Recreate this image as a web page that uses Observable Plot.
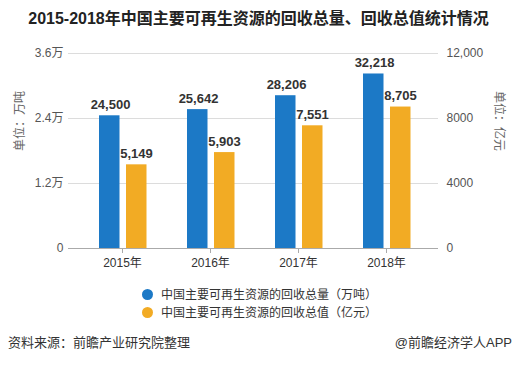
<!DOCTYPE html>
<html>
<head>
<meta charset="utf-8">
<script src="https://cdn.jsdelivr.net/npm/d3@7"></script>
<script src="https://cdn.jsdelivr.net/npm/@observablehq/plot@0.6"></script>
<style>
  html, body { margin: 0; padding: 0; background: #fff; }
  #wrap { position: relative; width: 517px; height: 365px; overflow: hidden;
    font-family: "Liberation Sans", "Noto Sans CJK SC", sans-serif; color: #333; }
  #title { position: absolute; left: 0; top: 8px; width: 517px; text-align: center;
    font-size: 16px; font-weight: bold; color: #222; line-height: 22px; white-space: nowrap; }
  #chart { position: absolute; left: 0; top: 0; }
  .leg { position: absolute; left: 142px; font-size: 12px; line-height: 16px; color: #333; white-space: nowrap; }
  .leg span.dot { display: inline-block; width: 11px; height: 11px; border-radius: 50%; vertical-align: -1px; margin-right: 8px; }
  .foot { position: absolute; top: 334px; font-size: 13px; line-height: 18px; color: #333; white-space: nowrap; }
</style>
</head>
<body>
<div id="wrap">
  <div id="chart"></div>
  <div id="title"></div>
  <div id="legend"></div>
  <div class="foot" id="src" style="left:8px"></div>
  <div class="foot" id="brand" style="right:5px"></div>
</div>
<script>
// ---- data ----
const years = ["2015年", "2016年", "2017年", "2018年"];
const volume = [24500, 25642, 28206, 32218];        // 回收总量（万吨）
const valueAmt = [5149, 5903, 7551, 8705];           // 回收总值（亿元）
const leftTicks = [0, 12000, 24000, 36000];
const leftTickLabels = ["0", "1.2万", "2.4万", "3.6万"];
const rightTicks = [0, 4000, 8000, 12000];
const rightTickLabels = ["0", "4000", "8000", "12,000"];
const seriesNames = ["中国主要可再生资源的回收总量（万吨）", "中国主要可再生资源的回收总值（亿元）"];
const titleText = "2015-2018年中国主要可再生资源的回收总量、回收总值统计情况";
const leftUnit = "单位：万吨";
const rightUnit = "单位：亿元";
const sourceText = "资料来源：前瞻产业研究院整理";
const brandText = "@前瞻经济学人APP";

const colors = ["#1c79c6", "#f2ab24"];
const ratio = leftTicks[leftTicks.length - 1] / rightTicks[rightTicks.length - 1];
const fmt = d3.format(",");

const rows = years.map((y, i) => ({year: y, volume: volume[i], value: valueAmt[i]}));

const chart = Plot.plot({
  width: 517,
  height: 365,
  marginTop: 53,
  marginBottom: 117,
  marginLeft: 68,
  marginRight: 79,
  style: {fontFamily: "'Liberation Sans', 'Noto Sans CJK SC', sans-serif", fontSize: "12px", color: "#333", background: "transparent"},
  x: {type: "band", domain: years, range: [77, 431], padding: 0, label: null},
  y: {domain: [0, leftTicks[leftTicks.length - 1]], label: null},
  marks: [
    Plot.ruleY(leftTicks.slice(1), {stroke: "#dcdcdc"}),
    Plot.barY(rows, {x: "year", y: "volume", fill: colors[0], insetLeft: 21, insetRight: 46.5}),
    Plot.barY(rows, {x: "year", y: d => d.value * ratio, fill: colors[1], insetLeft: 48, insetRight: 19.5}),
    Plot.ruleY([0], {stroke: "#aaa"}),
    Plot.text(rows, {x: "year", y: "volume", text: d => fmt(d.volume), dx: -12, dy: -11, fontSize: 13, fontWeight: "bold", fill: "#333"}),
    Plot.text(rows, {x: "year", y: d => d.value * ratio, text: d => fmt(d.value), dx: 14, dy: -11, fontSize: 13, fontWeight: "bold", fill: "#333"}),
    Plot.axisY(leftTicks, {anchor: "left", tickSize: 0, tickPadding: 5, fill: "#555", fontSize: 12,
      tickFormat: d => leftTickLabels[leftTicks.indexOf(d)], label: null}),
    Plot.axisY(rightTicks, {anchor: "right", y: d => d * ratio, tickSize: 0, tickPadding: 8, fill: "#555", fontSize: 12,
      tickFormat: d => rightTickLabels[rightTicks.indexOf(d)], label: null}),
    Plot.axisX({tickSize: 5, tickPadding: 5, stroke: "#aaa", fill: "#333", fontSize: 12, label: null}),
    Plot.text([leftUnit], {frameAnchor: "left", dx: -48, rotate: -90, fontSize: 12, fill: "#666"}),
    Plot.text([rightUnit], {frameAnchor: "right", dx: 60, rotate: 90, fontSize: 12, fill: "#666"})
  ]
});
document.getElementById("chart").appendChild(chart);

document.getElementById("title").textContent = titleText;
const legend = document.getElementById("legend");
seriesNames.forEach((name, i) => {
  const div = document.createElement("div");
  div.className = "leg";
  div.style.top = (287 + i * 18) + "px";
  const dot = document.createElement("span");
  dot.className = "dot";
  dot.style.background = colors[i];
  div.appendChild(dot);
  div.appendChild(document.createTextNode(name));
  legend.appendChild(div);
});
document.getElementById("src").textContent = sourceText;
document.getElementById("brand").textContent = brandText;
</script>
</body>
</html>
